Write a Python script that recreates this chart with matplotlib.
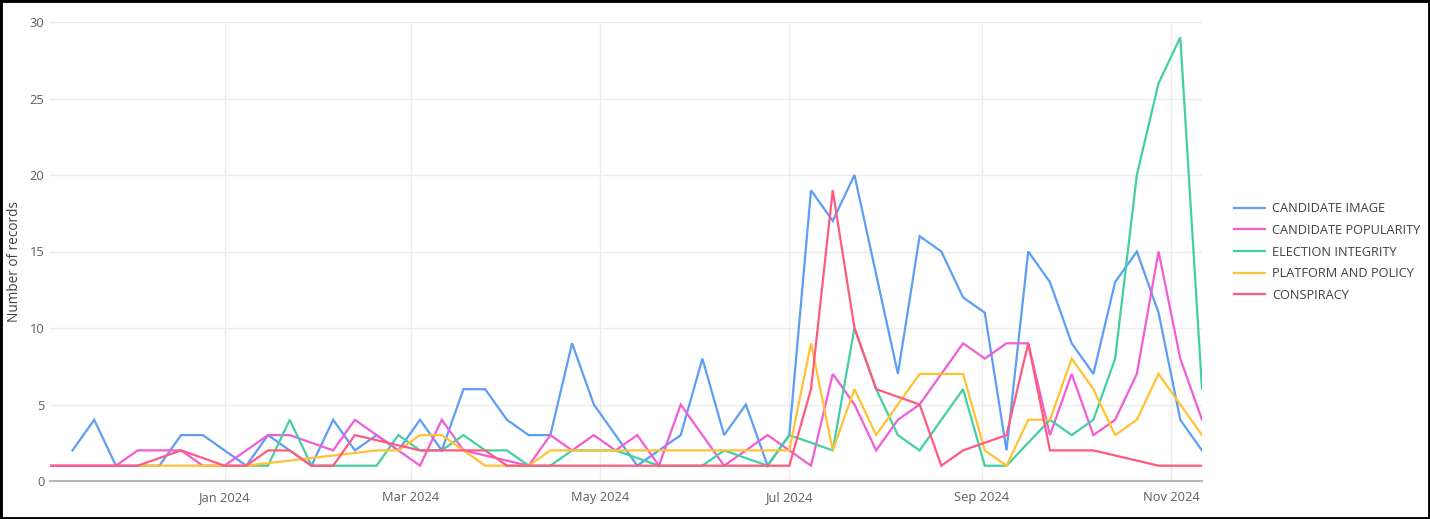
import numpy as np
import pandas as pd
import matplotlib
matplotlib.use("Agg")
import matplotlib.pyplot as plt
import matplotlib.dates as mdates
from matplotlib.patches import Rectangle

nan = np.nan
weeks = pd.date_range("2023-11-06", periods=54, freq="W-MON")

candidate_image = [nan, 2, 4, 1, 1, 1, 3, 3, 2, 1, 3, 2, 1, 4, 2, 3, 2, 4, 2, 6,
                   6, 4, 3, 3, 9, 5, 3, 1, 2, 3, 8, 3, 5, 1, 3, 19, 17, 20, nan, 7,
                   16, 15, 12, 11, 2, 15, 13, 9, 7, 13, 15, 11, 4, 2]
candidate_popularity = [1, 1, 1, 1, 2, 2, 2, 1, 1, 2, 3, 3, nan, 2, 4, 3, 2, 1, 4, 2,
                        nan, nan, 1, 3, 2, 3, 2, 3, 1, 5, 3, 1, 2, 3, 2, 1, 7, 5, 2, 4,
                        5, 7, 9, 8, 9, 9, 3, 7, 3, 4, 7, 15, 8, 4]
election_integrity = [nan, nan, nan, nan, nan, nan, nan, nan, nan, 1, 1, 4, 1, 1, 1, 1, 3, 2, 2, 3,
                      2, 2, 1, 1, 2, 2, 2, nan, 1, 1, 1, 2, nan, 1, 3, nan, 2, 10, 6, 3,
                      2, 4, 6, 1, 1, nan, 4, 3, 4, 8, 20, 26, 29, 6]
platform_policy = [nan, nan, nan, nan, 1, 1, 1, 1, 1, 1, nan, nan, nan, nan, nan, 2, 2, 3, 3, 2,
                   1, 1, 1, 2, 2, 2, 2, 2, 2, 2, 2, 2, 2, 2, 2, 9, 2, 6, 3, 5,
                   7, 7, 7, 2, 1, 4, 4, 8, 6, 3, 4, 7, 5, 3]
conspiracy = [1, 1, 1, 1, 1, nan, 2, nan, 1, 1, 2, 2, 1, 1, 3, nan, nan, 2, 2, 2,
              2, 1, 1, 1, 1, 1, 1, 1, 1, 1, 1, 1, 1, 1, 1, 6, 19, 10, 6, nan,
              5, 1, 2, nan, 3, 9, 2, 2, 2, nan, nan, 1, 1, 1]

series_names = ["CANDIDATE IMAGE", "CANDIDATE POPULARITY", "ELECTION INTEGRITY",
                "PLATFORM AND POLICY", "CONSPIRACY"]
series_values = [candidate_image, candidate_popularity, election_integrity,
                 platform_policy, conspiracy]
colors = ["#5C9DF7", "#F25CD4", "#43CFA1", "#FFC233", "#FF5A7E"]

plt.rcParams["font.family"] = ["Open Sans", "DejaVu Sans"]

fig = plt.figure(figsize=(14.3, 5.19), dpi=100)
ax = fig.add_axes([50 / 1430, 1 - 481 / 519, (1202 - 50) / 1430, (481 - 22) / 519])

for name, vals, c in zip(series_names, series_values, colors):
    s = pd.Series(vals, index=weeks).dropna()
    ax.plot(s.index, s.values, color=c, lw=1.6, label=name, solid_joinstyle="miter")

ax.set_ylim(0, 30)
ax.set_xlim(weeks[0] - pd.Timedelta(hours=6), weeks[-1])
ax.set_yticks([0, 5, 10, 15, 20, 25, 30])
ax.xaxis.set_major_locator(mdates.MonthLocator(bymonth=[1, 3, 5, 7, 9, 11]))
ax.xaxis.set_major_formatter(mdates.DateFormatter("%b %Y"))

ax.grid(True, color="#ececec", lw=1.0)
ax.set_axisbelow(True)
for sp in ["left", "right", "top"]:
    ax.spines[sp].set_visible(False)
ax.spines["bottom"].set_color("#b8b8b8")
ax.spines["bottom"].set_linewidth(1.5)
ax.tick_params(axis="both", length=0, labelsize=9.3, colors="#605e5c")
ax.tick_params(axis="x", pad=7)
ax.tick_params(axis="y", pad=4)

fig.text(15 / 1430, 1 - 262 / 519, "Number of records", rotation=90, ha="center",
         va="center", fontsize=9.8, color="#404040")

fig.legend(loc="center left", bbox_to_anchor=(1222 / 1430, 1 - 252 / 519), frameon=False,
           fontsize=9.2, handlelength=2.5, handletextpad=0.5, labelspacing=0.68,
           labelcolor="#404040")

fig.patches.append(Rectangle((0, 0), 1, 1, transform=fig.transFigure, fill=False,
                             edgecolor="black", lw=3.5))

fig.savefig("out.png", dpi=100)
